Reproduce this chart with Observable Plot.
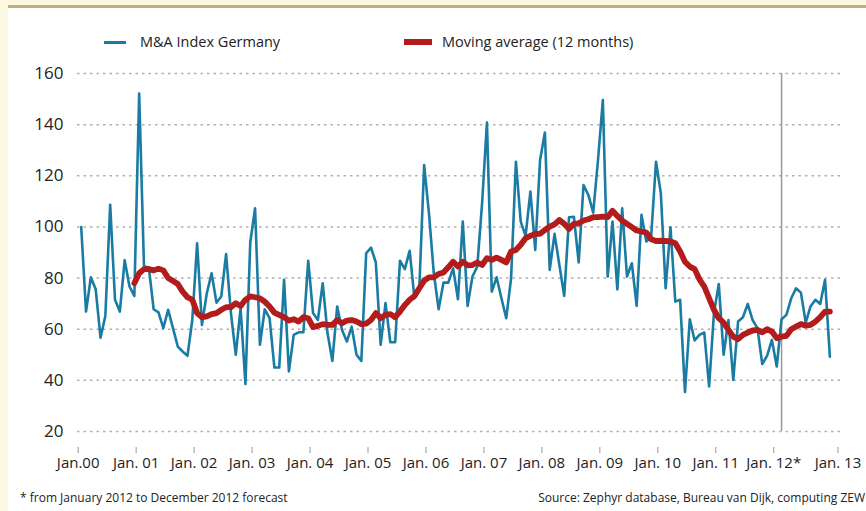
<!DOCTYPE html>
<html>
<head>
<meta charset="utf-8">
<script src="https://cdn.jsdelivr.net/npm/d3@7"></script>
<script src="https://cdn.jsdelivr.net/npm/@observablehq/plot@0.6"></script>
<style>
  html, body { margin: 0; padding: 0; }
  body { width: 866px; height: 511px; overflow: hidden; background: #fdf8e2; position: relative; font-family: "Open Sans", sans-serif; color: #222; }
  #panel { position: absolute; left: 8px; top: 5px; right: 0; bottom: 0; background: #fff; border-top: 3px solid #c0ae7c; }
  #chart { position: absolute; left: 0; top: 0; }
  .leg { position: absolute; font-size: 14.5px; line-height: 20px; top: 32px; white-space: nowrap; }
  .sw { position: absolute; }
  .foot { position: absolute; font-size: 12px; line-height: 16px; top: 490px; white-space: nowrap; }
</style>
</head>
<body>
<div id="panel"></div>
<div id="chart"></div>
<div class="sw" style="left:104px; top:40.5px; width:22px; height:3px; background:#1a7ba3;"></div>
<div class="leg" style="left:140px;">M&amp;A Index Germany</div>
<div class="sw" style="left:404px; top:39px; width:28px; height:6px; background:#b21c1c;"></div>
<div class="leg" style="left:442px;">Moving average (12 months)</div>
<div class="foot" style="left:20px;">* from January 2012 to December 2012 forecast</div>
<div class="foot" style="right:1px;">Source: Zephyr database, Bureau van Dijk, computing ZEW</div>
<script>
// Monthly M&A index, Jan 2000 .. Dec 2012 (month index 0..155)
const mnaIndex = [
  100, 66.9, 80.3, 75.6, 56.7, 65.2, 108.7, 71.5, 66.9, 87, 76.7, 73,
  152.2, 84.5, 84.2, 67.8, 66.6, 60.4, 67.6, 60.4, 53.2, 51.3, 49.6, 63.6,
  93.6, 61.7, 74, 81.9, 70.4, 72.8, 89.4, 66.3, 50, 68.2, 38.6, 93.9,
  107.3, 53.9, 67.8, 64.3, 45, 45, 79.3, 43.5, 57.8, 58.8, 58.8, 86.8,
  66.3, 63.6, 78, 58.4, 47.6, 68.9, 59.7, 55.2, 61, 50, 47.6, 89.7,
  91.9, 86.1, 53.9, 70.2, 54.9, 54.9, 86.8, 83.5, 90.7, 72.1, 76, 124.2,
  105.3, 81.9, 67.8, 78.2, 78.2, 83.8, 71.7, 102.1, 69.1, 80.6, 84.5, 109.3,
  140.8, 74.7, 80.3, 72.1, 64.3, 79.9, 125.5, 102.1, 96.5, 113.8, 91, 126.2,
  136.9, 83.2, 97.3, 85.1, 73, 103.8, 104, 86.1, 116.4, 112.5, 105.6, 126.2,
  149.6, 80.6, 102.1, 75.6, 107.3, 80.6, 85.8, 69.1, 104.7, 94.3, 96.2, 125.5,
  113.2, 76, 99.9, 70.8, 71.5, 35.5, 63.9, 55.6, 57.8, 58.7, 37.6, 66.3,
  77.7, 50, 63.6, 40.2, 63, 64.7, 69.9, 63.6, 60.4, 46.4, 49.6, 55.8,
  45.4, 63.9, 65.6, 72.1, 76, 74.3, 62.6, 68.9, 71.5, 69.9, 79.3, 49.3
];
// 12-month moving average, starting at month index 11 (Dec 2000)
const maStart = 11;
const movingAvg = [
  78,
  81.9, 83.5, 83.5, 83, 83.7, 83, 80, 78.9, 77.7, 74.7, 72.5, 71.5,
  66.3, 64.7, 65, 65.9, 66.3, 67.6, 68.6, 68.6, 70.2, 69.1, 71.5, 72.8,
  72.5, 72.1, 70.8, 68.9, 66.5, 65.6, 64.7, 63.4, 63.9, 63, 64.7, 64.3,
  60.8, 61.3, 62, 61.7, 61.7, 63.6, 62.3, 63.4, 63.6, 63, 62, 62.2,
  63.6, 66.3, 64.3, 65.6, 65.9, 64.7, 66.9, 69.5, 71.5, 73, 76, 79,
  80.3, 80.3, 81.6, 82.2, 84.2, 86.4, 84.5, 86.4, 85, 85.1, 86.1, 85.1,
  87.8, 87.1, 88, 87.1, 86.1, 90.4, 91, 93, 95.6, 96.5, 97.3, 97.3,
  98.8, 100.1, 101, 102.7, 101.2, 99.2, 101.2, 101.4, 102.5, 103, 103.8, 103.8,
  104, 103.8, 106.3, 104.3, 102.5, 101.2, 99.9, 98.6, 98.2, 97.8, 95.2, 94.5,
  94.6, 94.5, 94.3, 93.6, 90.4, 86.4, 84.5, 83.5, 79.5, 76.7, 72.1, 67.6,
  64.3, 62.6, 59.7, 57.1, 56.1, 57.8, 58.7, 59.5, 59.7, 58.8, 60, 59.1,
  56.5, 57.1, 57.4, 60, 61, 62, 61.4, 61.7, 63, 64.7, 66.9, 66.9
];
const forecastStart = 145;
const yTicks = [20, 40, 60, 80, 100, 120, 140, 160];
const xTickPos = [0, 12, 24, 36, 48, 60, 72, 84, 96, 108, 120, 132, 144, 157.3];
const xTickLabels = ["Jan.00", "Jan. 01", "Jan. 02", "Jan. 03", "Jan. 04", "Jan. 05", "Jan. 06", "Jan. 07", "Jan. 08", "Jan. 09", "Jan. 10", "Jan. 11", "Jan. 12*", "Jan. 13"];

const mnaData = mnaIndex.map((v, i) => ({i, v}));
const maData = movingAvg.map((v, k) => ({i: k + maStart, v}));
const labelMap = new Map(xTickPos.map((p, k) => [p, xTickLabels[k]]));

const chart = Plot.plot({
  width: 866,
  height: 480,
  marginLeft: 77,
  marginRight: 24,
  marginTop: 73,
  marginBottom: 33,
  insetLeft: 3.7,
  insetRight: 7.8,
  insetBottom: 16,
  insetTop: 0,
  x: {domain: [0, 156]},
  y: {domain: [d3.min(yTicks), d3.max(yTicks)]},
  style: {background: "transparent", fontFamily: "'Open Sans', sans-serif", color: "#222", overflow: "visible"},
  marks: [
    Plot.ruleY(yTicks, {stroke: "#b0b0b0", strokeWidth: 1.5, strokeDasharray: "2.5,4"}),
    Plot.axisY({ticks: yTicks, tickSize: 0, tickPadding: 14, fontSize: 17, label: null}),
    Plot.axisX({ticks: xTickPos, tickFormat: d => labelMap.get(d), tickSize: 6, tickPadding: 4, fontSize: 15, label: null, stroke: "#999", dx: -3}),
    Plot.ruleX([forecastStart], {y1: d3.min(yTicks), y2: d3.max(yTicks), stroke: "#9a9a9a", strokeWidth: 1.5}),
    Plot.line(mnaData, {x: "i", y: "v", stroke: "#1a7ba3", strokeWidth: 2.6}),
    Plot.line(maData, {x: "i", y: "v", stroke: "#b21c1c", strokeWidth: 5.8, strokeLinejoin: "round"})
  ]
});
document.getElementById("chart").append(chart);
</script>
</body>
</html>
